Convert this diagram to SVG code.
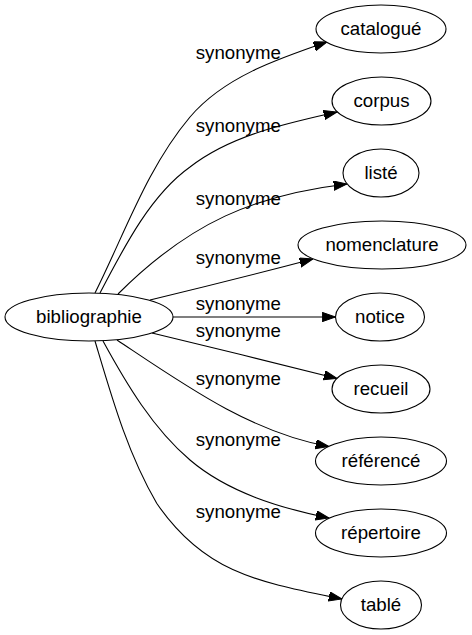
<svg xmlns="http://www.w3.org/2000/svg" width="472" height="635" viewBox="0 0 472 635">
<style>
  .node ellipse { fill: #ffffff; stroke: #000000; stroke-width: 1.1; }
  .node text { font-family: "Liberation Sans", Arial, sans-serif; font-size: 18.67px; fill: #000000; text-anchor: middle; }
  .edge path { fill: none; stroke: #000000; stroke-width: 1.1; marker-end: url(#ah); }
  .edge text { font-family: "Liberation Sans", Arial, sans-serif; font-size: 18.67px; fill: #000000; text-anchor: middle; }
</style>
<defs>
  <marker id="ah" markerUnits="userSpaceOnUse" markerWidth="14" markerHeight="10" refX="13.3" refY="4.67" orient="auto">
    <path d="M0,0 L13.3,4.67 L0,9.34 Z" fill="#000000" stroke="#000000" stroke-width="1"/>
  </marker>
</defs>
<rect x="0" y="0" width="472" height="635" fill="#ffffff"/>
<g id="edges">
  <g class="edge" id="e-catalogue">
    <path d="M95,293 C125,233 147,168 190,117 C223.6,77.3 277.8,58.7 327,42"/>
    <text x="238.3" y="58.5">synonyme</text>
  </g>
  <g class="edge" id="e-corpus">
    <path d="M100,293 C126,243 152,194 190,167 C231,135 286,123.6 337,112"/>
    <text x="238.3" y="132">synonyme</text>
  </g>
  <g class="edge" id="e-liste">
    <path d="M118,294 C190,222 255,195 347,184"/>
    <text x="238.3" y="205">synonyme</text>
  </g>
  <g class="edge" id="e-nomenclature">
    <path d="M150,300 C200,288 260,273 313,259"/>
    <text x="238.3" y="264">synonyme</text>
  </g>
  <g class="edge" id="e-notice">
    <path d="M173,317 L335.5,317"/>
    <text x="238.3" y="310">synonyme</text>
  </g>
  <g class="edge" id="e-recueil">
    <path d="M152,333 C210,347 280,364 337,378.5"/>
    <text x="238.3" y="336.5">synonyme</text>
  </g>
  <g class="edge" id="e-reference">
    <path d="M117,340 C183,384 251,432.8 329,446.5"/>
    <text x="238.3" y="385">synonyme</text>
  </g>
  <g class="edge" id="e-repertoire">
    <path d="M103,341 C126.5,384 152.7,428.2 190,460 C228,492.4 280,508 329,518"/>
    <text x="238.3" y="446">synonyme</text>
  </g>
  <g class="edge" id="e-table">
    <path d="M95,341 C111.6,396.6 127,452 156.7,503.3 C204.7,573.4 258.7,582 342,599"/>
    <text x="238.3" y="517.5">synonyme</text>
  </g>
</g>
<g class="node" id="n-bibliographie">
  <ellipse cx="89" cy="317" rx="84" ry="24"/>
  <text x="89" y="323">bibliographie</text>
</g>
<g class="node" id="n-catalogue">
  <ellipse cx="381" cy="29" rx="65" ry="24"/>
  <text x="381" y="35">catalogué</text>
</g>
<g class="node" id="n-corpus">
  <ellipse cx="381.5" cy="101" rx="49.5" ry="24"/>
  <text x="381.5" y="107">corpus</text>
</g>
<g class="node" id="n-liste">
  <ellipse cx="381" cy="173" rx="38" ry="24"/>
  <text x="381" y="179">listé</text>
</g>
<g class="node" id="n-nomenclature">
  <ellipse cx="382" cy="245" rx="84" ry="24"/>
  <text x="382" y="251">nomenclature</text>
</g>
<g class="node" id="n-notice">
  <ellipse cx="380" cy="317" rx="44.5" ry="24"/>
  <text x="380" y="323">notice</text>
</g>
<g class="node" id="n-recueil">
  <ellipse cx="381" cy="389" rx="49" ry="24"/>
  <text x="381" y="395">recueil</text>
</g>
<g class="node" id="n-reference">
  <ellipse cx="381" cy="461" rx="65.5" ry="24"/>
  <text x="381" y="467">référencé</text>
</g>
<g class="node" id="n-repertoire">
  <ellipse cx="381" cy="533" rx="65.5" ry="24"/>
  <text x="381" y="539">répertoire</text>
</g>
<g class="node" id="n-table">
  <ellipse cx="381" cy="605" rx="40.5" ry="24"/>
  <text x="381" y="611">tablé</text>
</g>
</svg>
